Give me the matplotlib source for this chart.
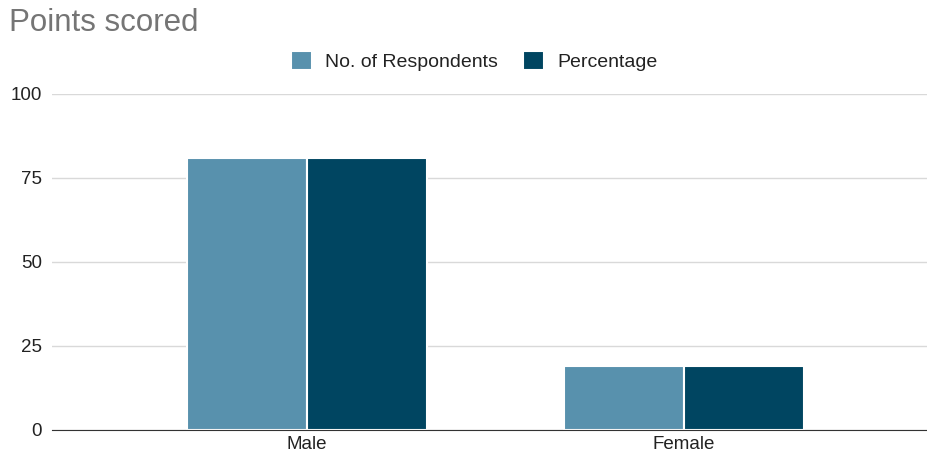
import numpy as np
import matplotlib.pyplot as plt

categories = ['Male', 'Female']
series_names = ['No. of Respondents', 'Percentage']
respondents = [81, 19]
percentage = [81, 19]
y_ticks = [0, 25, 50, 75, 100]

colors = ['#5891ad', '#004561']

plt.rcParams['font.family'] = ['Liberation Sans', 'DejaVu Sans']

fig = plt.figure(figsize=(9.28, 4.53), dpi=100)
ax = fig.add_axes([0.056, 0.0508, 0.944, 0.7417])

x = np.arange(len(categories))
w = 0.318
for i, (vals, name) in enumerate(zip([respondents, percentage], series_names)):
    ax.bar(x + (i - 0.5) * w, vals, width=w, color=colors[i], label=name,
           edgecolor='white', linewidth=1.5, zorder=3)

ax.set_xlim(-0.676, 1.647)
ax.set_ylim(0, 100)
ax.set_yticks(y_ticks)
ax.set_xticks(x)
ax.set_xticklabels(categories)
ax.yaxis.grid(True, color='#d9d9d9', linewidth=1, zorder=0)
ax.tick_params(axis='both', length=0, labelsize=13.5, colors='#222222')
ax.tick_params(axis='y', pad=7)
ax.tick_params(axis='x', pad=4)
for s in ['top', 'right', 'left']:
    ax.spines[s].set_visible(False)
ax.spines['bottom'].set_color('#333333')
ax.spines['bottom'].set_zorder(4)

fig.text(0.010, 1 - 23 / 453, 'Points scored', fontsize=22.5, color='#757575',
         va='center', ha='left')

fig.legend(loc='center', bbox_to_anchor=(474 / 928, 1 - 61 / 453), ncol=2,
           frameon=False, fontsize=14, handlelength=1.1, handleheight=1.1,
           handletextpad=0.65, columnspacing=1.3, labelcolor='#222222')

fig.savefig('out.png', dpi=100)
